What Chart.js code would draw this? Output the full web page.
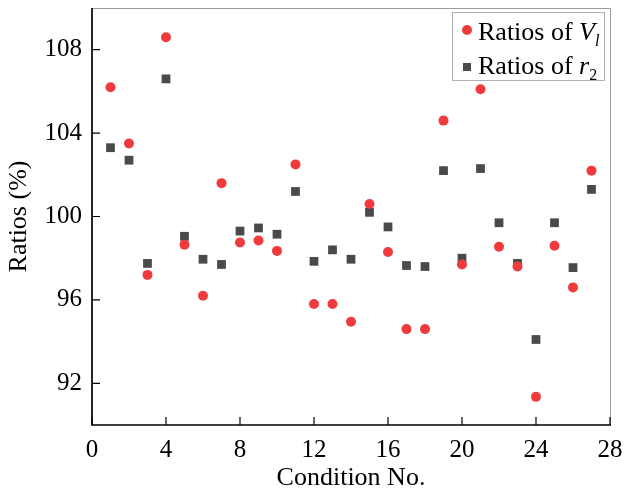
<!DOCTYPE html>
<html>
<head>
<meta charset="utf-8">
<script src="https://cdn.jsdelivr.net/npm/chart.js@4"></script>
<style>
  body { margin: 0; background: #fff; }
  #wrap { width: 624px; height: 494px; }
</style>
</head>
<body>
<div id="wrap"><canvas id="chart" width="624" height="494"></canvas></div>
<script>
// condition numbers 1..27
var conditions = [1, 2, 3, 4, 5, 6, 7, 8, 9, 10, 11, 12, 13, 14, 15, 16, 17, 18, 19, 20, 21, 22, 23, 24, 25, 26, 27]
var ratiosVl = [106.2, 103.5, 97.2, 108.6, 98.65, 96.2, 101.6, 98.75, 98.85, 98.35, 102.5, 95.8, 95.8, 94.95,
    100.6, 98.3, 94.6, 94.6, 104.6, 97.7, 106.1, 98.55, 97.6, 91.35, 98.6, 96.6, 102.2]
var ratiosR2 = [103.3, 102.7, 97.75, 106.6, 99.05, 97.95, 97.7, 99.3, 99.45, 99.15, 101.2, 97.85, 98.4, 97.95,
    100.2, 99.5, 97.65, 97.6, 102.2, 98.0, 102.3, 99.7, 97.75, 94.1, 99.7, 97.55, 101.3]
var xMajor = [0, 4, 8, 12, 16, 20, 24, 28]
var yMajor = [92, 96, 100, 104, 108]

var serif = '"Liberation Serif", "Times New Roman", serif'
var red = '#ef3b3d'
var dark = '#4a4a4a'

function pts(ys) {
    return conditions.map((c, i) => ({x: c, y: ys[i]}))
}

//坐标框和向内的刻度
var framePlugin = {
    id: 'frame',
    afterDraw: (chart) => {
        var ctx = chart.ctx
        var a = chart.chartArea
        var xs = chart.scales.x
        var ys = chart.scales.y
        ctx.save()
        ctx.strokeStyle = '#9a9a9a'
        ctx.lineWidth = 1
        ctx.beginPath()
        ctx.moveTo(a.left, a.top + 0.5)
        ctx.lineTo(a.right + 0.5, a.top + 0.5)
        ctx.lineTo(a.right + 0.5, a.bottom)
        ctx.stroke()
        ctx.strokeStyle = '#000'
        ctx.lineWidth = 1.7
        ctx.beginPath()
        ctx.moveTo(a.left, a.top)
        ctx.lineTo(a.left, a.bottom)
        ctx.lineTo(a.right + 1, a.bottom)
        ctx.stroke()
        ctx.lineWidth = 1.2
        ctx.beginPath()
        xs.ticks.forEach(t => {
            var px = xs.getPixelForValue(t.value)
            var len = xMajor.includes(t.value) ? 8 : 4
            ctx.moveTo(px, a.bottom)
            ctx.lineTo(px, a.bottom - len)
        })
        ys.ticks.forEach(t => {
            var py = ys.getPixelForValue(t.value)
            var len = yMajor.includes(t.value) ? 8 : 5
            ctx.moveTo(a.left, py)
            ctx.lineTo(a.left + len, py)
        })
        ctx.stroke()
        ctx.restore()
    }
}

//图例（斜体和下标）
var legendPlugin = {
    id: 'mylegend',
    afterDraw: (chart) => {
        var ctx = chart.ctx
        var a = chart.chartArea
        var bx = a.right - 158, by = a.top + 4, bw = 152, bh = 68
        ctx.save()
        ctx.fillStyle = '#fff'
        ctx.fillRect(bx, by, bw, bh)
        ctx.strokeStyle = '#b0b0b0'
        ctx.lineWidth = 1
        ctx.strokeRect(bx + 0.5, by + 0.5, bw, bh)
        // markers
        ctx.fillStyle = red
        ctx.beginPath()
        ctx.arc(bx + 15, by + 18, 5, 0, Math.PI * 2)
        ctx.fill()
        ctx.fillStyle = dark
        ctx.fillRect(bx + 11, by + 51, 8, 8)
        // texts
        ctx.fillStyle = '#000'
        ctx.textBaseline = 'alphabetic'
        var tx = bx + 26
        ctx.font = '26px ' + serif
        ctx.fillText('Ratios of ', tx, by + 28)
        var w = ctx.measureText('Ratios of ').width
        ctx.font = 'italic 26px ' + serif
        ctx.fillText('V', tx + w, by + 28)
        var w2 = ctx.measureText('V').width
        ctx.font = 'italic 16px ' + serif
        ctx.fillText('l', tx + w + w2, by + 34)
        ctx.font = '26px ' + serif
        ctx.fillText('Ratios of ', tx, by + 62)
        ctx.font = 'italic 26px ' + serif
        ctx.fillText('r', tx + w, by + 62)
        var w3 = ctx.measureText('r').width
        ctx.font = '16px ' + serif
        ctx.fillText('2', tx + w + w3, by + 68)
        ctx.restore()
    }
}

var chart = new Chart($('#chart'), {
    type: 'scatter',
    data: {
        datasets: [{
            label: 'Ratios of Vl',
            data: pts(ratiosVl),
            pointStyle: 'circle',
            pointRadius: 5,
            pointHoverRadius: 5,
            backgroundColor: red,
            borderColor: red,
            borderWidth: 0
        }, {
            label: 'Ratios of r2',
            data: pts(ratiosR2),
            pointStyle: 'rect',
            pointRadius: 6.2,
            pointHoverRadius: 6.2,
            backgroundColor: dark,
            borderColor: dark,
            borderWidth: 0
        }]
    },
    options: {
        responsive: false,
        animation: false,
        layout: {padding: {left: 0, top: 8, right: 14, bottom: 0}},
        plugins: {
            legend: {display: false},
            tooltip: {enabled: false}
        },
        scales: {
            x: {
                type: 'linear',
                min: 0,
                max: 28,
                afterFit: (s) => {
                    s.height = 69
                    s.paddingLeft = 0
                    s.paddingRight = 0
                },
                grid: {display: false, drawTicks: false},
                border: {display: false},
                ticks: {
                    stepSize: 2,
                    padding: 10,
                    color: '#000',
                    maxRotation: 0,
                    autoSkip: false,
                    font: {family: serif, size: 25},
                    callback: (v) => xMajor.includes(v) ? String(v) : null
                },
                title: {
                    display: true,
                    text: 'Condition No.',
                    color: '#000',
                    padding: {top: 0, bottom: 0},
                    font: {family: serif, size: 26}
                }
            },
            y: {
                min: 90,
                max: 110,
                afterFit: (s) => {
                    s.width = 92
                    s.paddingTop = 0
                    s.paddingBottom = 0
                },
                grid: {display: false, drawTicks: false},
                border: {display: false},
                ticks: {
                    stepSize: 2,
                    padding: 10,
                    color: '#000',
                    autoSkip: false,
                    font: {family: serif, size: 25},
                    callback: (v) => yMajor.includes(v) ? String(v) : null
                },
                title: {
                    display: true,
                    text: 'Ratios (%)',
                    color: '#000',
                    padding: {top: 4, bottom: 0},
                    font: {family: serif, size: 26}
                }
            }
        }
    },
    plugins: [framePlugin, legendPlugin]
})

function $(sel) { return document.querySelector(sel) }
</script>
</body>
</html>
